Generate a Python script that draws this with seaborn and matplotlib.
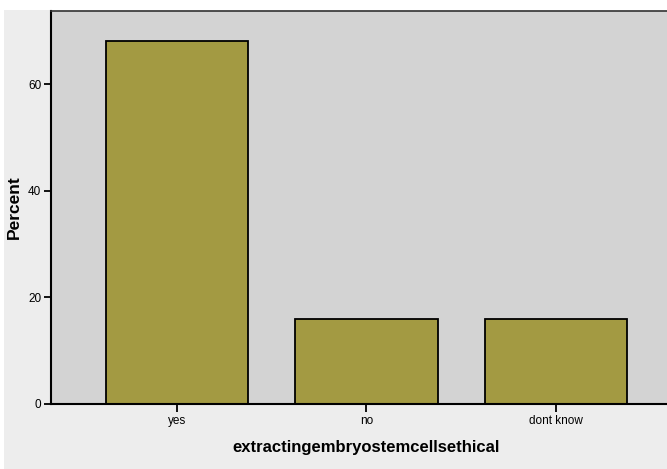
import matplotlib
matplotlib.use("Agg")
import matplotlib.pyplot as plt
import seaborn as sns
import pandas as pd

categories = ["yes", "no", "dont know"]
percent = [68.0, 16.0, 16.0]
y_ticks = [0, 20, 40, 60]

df = pd.DataFrame({"answer": categories, "Percent": percent})

sns.set_theme(style="white")
plt.rcParams['font.family'] = ['Liberation Sans', 'DejaVu Sans']

fig = plt.figure(figsize=(6.67, 4.69), dpi=100, facecolor="white")
# light grey chart frame like the SPSS output
frame = plt.Rectangle((4 / 667, 0), 1, 1 - 10 / 469, transform=fig.transFigure,
                      facecolor="#ededed", edgecolor="none", zorder=-5)
fig.add_artist(frame)
ax = fig.add_axes([51 / 667, 1 - 404 / 469, 1 - 51 / 667, (404 - 11) / 469])
ax.set_facecolor("#d3d3d3")

sns.barplot(data=df, x="answer", y="Percent", color="#a39a42", saturation=1,
            width=0.75, edgecolor="black", linewidth=1.3, ax=ax)

ax.set_xlim(-0.665, 2.586)
ax.set_ylim(0, 73.7)
ax.set_yticks(y_ticks)
ax.tick_params(axis="both", labelsize=8.5, colors="black", labelcolor="black",
               length=5, width=1.3, direction="out", left=True, bottom=True, pad=2)
ax.tick_params(axis="x", length=6, pad=2)
for s in ["left", "bottom"]:
    ax.spines[s].set_color("black")
    ax.spines[s].set_linewidth(1.5)
ax.spines["top"].set_color("#333333")
ax.spines["top"].set_linewidth(1.2)
ax.spines["right"].set_visible(False)

ax.set_xlabel("extractingembryostemcellsethical", fontsize=12, fontweight="bold", color="black")
ax.set_ylabel("Percent", fontsize=12.5, fontweight="bold", color="black")
ax.xaxis.set_label_coords((366 - 51) / (667 - 51), -0.092)
ax.yaxis.set_label_coords(-0.047, 0.5)

fig.savefig("out.png", dpi=100, facecolor=fig.get_facecolor())
